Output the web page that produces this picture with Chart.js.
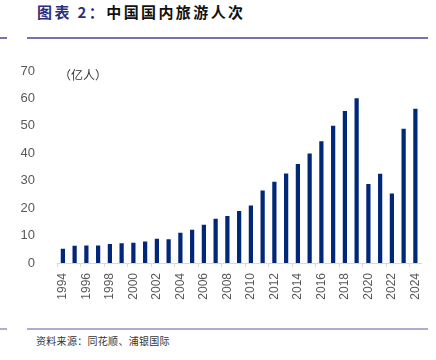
<!DOCTYPE html>
<html>
<head>
<meta charset="utf-8">
<script src="https://cdn.jsdelivr.net/npm/chart.js@4"></script>
<style>
  html, body { margin: 0; padding: 0; background: #fff; }
  #wrap { position: relative; width: 436px; height: 360px; overflow: hidden; }
  .title { position: absolute; left: 37px; top: 1px; font-family: "Noto Sans CJK SC"; font-weight: bold; font-size: 15px; letter-spacing: 2.4px; color: #111; white-space: nowrap; }
  .title .num { color: #2b2f7d; }
  .rule { position: absolute; height: 2px; }
  .src { position: absolute; left: 36px; top: 333px; font-family: "Noto Sans CJK SC"; font-size: 10px; color: #333; white-space: nowrap; letter-spacing: 0.3px; }
  canvas { position: absolute; left: 0; top: 0; }
</style>
</head>
<body>
<div id="wrap">
  <div class="title"><span class="num">图表 2：</span>中国国内旅游人次</div>
  <div class="rule" style="left:0;top:37px;width:7px;background:#7a70b4"></div>
  <div class="rule" style="left:27px;top:37px;width:401px;background:#7a70b4"></div>
  <div class="rule" style="left:0;top:328px;width:7px;background:#b1abd3"></div>
  <div class="rule" style="left:27px;top:328px;width:401px;background:#b1abd3"></div>
  <div class="src">资料来源：同花顺、浦银国际</div>
  <canvas id="c" width="436" height="360"></canvas>
</div>
<script>
// 年份
const years = ['1994','1995','1996','1997','1998','1999','2000','2001','2002','2003',
  '2004','2005','2006','2007','2008','2009','2010','2011','2012','2013',
  '2014','2015','2016','2017','2018','2019','2020','2021','2022','2023','2024'];
// 国内旅游人次（亿人）
const trips = [5.2, 6.3, 6.4, 6.4, 6.9, 7.2, 7.4, 7.8, 8.8, 8.7,
  11.0, 12.1, 13.9, 16.1, 17.1, 19.0, 21.0, 26.4, 29.6, 32.6,
  36.1, 39.9, 44.4, 50.0, 55.4, 60.1, 28.8, 32.5, 25.3, 48.9, 56.2];
const yTicks = [0, 10, 20, 30, 40, 50, 60, 70];
const unitLabel = '（亿人）';

const unitPlugin = {
    id: 'unit',
    afterDraw(chart) {
        const ctx = chart.ctx;
        const a = chart.chartArea;
        ctx.save();
        ctx.font = '12px "Noto Sans CJK SC"';
        ctx.fillStyle = '#333';
        ctx.textBaseline = 'middle';
        ctx.fillText(unitLabel, a.left + 2, a.top + 4);
        ctx.restore();
    }
};

const ctx = document.getElementById('c');
new Chart(ctx, {
    type: 'bar',
    data: {
        labels: years,
        datasets: [{
            data: trips,
            backgroundColor: '#002878',
            categoryPercentage: 1,
            barPercentage: 0.36
        }]
    },
    options: {
        responsive: false,
        animation: false,
        events: [],
        layout: { padding: { top: 71, right: 13, bottom: 57, left: 0 } },
        plugins: { legend: { display: false }, tooltip: { enabled: false } },
        scales: {
            x: {
                grid: {
                    offset: true,
                    drawOnChartArea: false,
                    tickLength: 4,
                    color: c => (c.index % 2 === 0 ? '#d9d9d9' : 'transparent')
                },
                border: { color: '#d9d9d9' },
                ticks: {
                    autoSkip: false,
                    minRotation: 90,
                    maxRotation: 90,
                    padding: 6,
                    color: '#595959',
                    font: { family: 'Liberation Sans', size: 12 },
                    callback: function (v, i) { return i % 2 === 0 ? this.getLabelForValue(v) : ''; }
                },
                afterFit: s => { s.height = 40; }
            },
            y: {
                min: 0,
                max: 70,
                afterBuildTicks: s => { s.ticks = yTicks.map(v => ({ value: v })); },
                grid: { display: false },
                border: { display: false },
                ticks: {
                    padding: 14,
                    color: '#595959',
                    font: { family: 'Liberation Sans', size: 13 }
                },
                afterFit: s => { s.width = 57; }
            }
        }
    },
    plugins: [unitPlugin]
});
</script>
</body>
</html>
